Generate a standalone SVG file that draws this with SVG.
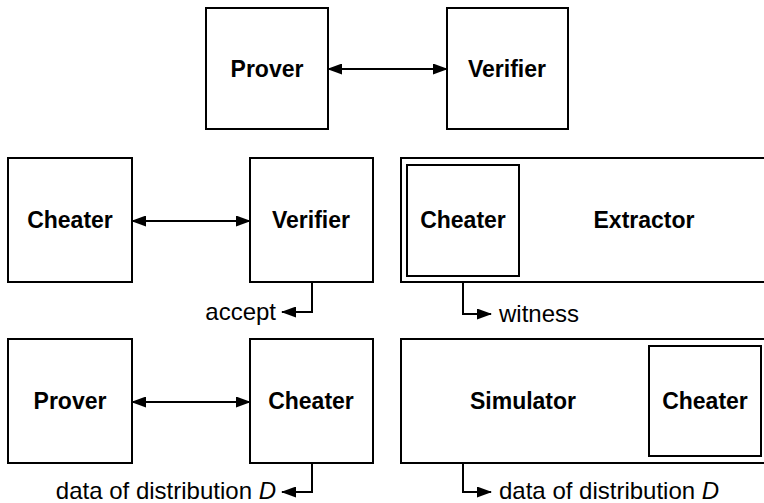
<svg xmlns="http://www.w3.org/2000/svg" width="764" height="503" viewBox="0 0 764 503">
<style>
.box{fill:#fff;stroke:#000;stroke-width:2}
.lbl{font-family:"Liberation Sans",Arial,sans-serif;font-weight:bold;font-size:23px;text-anchor:middle;dominant-baseline:central}
.txt{font-family:"Liberation Sans",Arial,sans-serif;font-size:24px}
.con{fill:none;stroke:#000;stroke-width:2}
</style>
<defs>
<marker id="ah" viewBox="0 0 15 11" refX="14" refY="5.5" markerWidth="15" markerHeight="11" markerUnits="userSpaceOnUse" orient="auto-start-reverse">
<path d="M0,0 L15,5.5 L0,11 Z" fill="#000"/>
</marker>
</defs>
<rect width="764" height="503" fill="#fff"/>
<g id="prover1"><rect class="box" x="206" y="8" width="122" height="121"/><text class="lbl" x="267" y="69">Prover</text></g>
<g id="verifier1"><rect class="box" x="447" y="8" width="121" height="121"/><text class="lbl" x="507" y="69">Verifier</text></g>
<g id="cheater2"><rect class="box" x="8" y="158" width="124" height="124"/><text class="lbl" x="70" y="220">Cheater</text></g>
<g id="verifier2"><rect class="box" x="250" y="158" width="123" height="124"/><text class="lbl" x="311" y="220">Verifier</text></g>
<g id="extractor"><rect class="box" x="401" y="158" width="380" height="124"/><rect class="box" x="407" y="165" width="112" height="111"/><text class="lbl" x="463" y="220">Cheater</text><text class="lbl" x="644" y="220">Extractor</text></g>
<g id="prover3"><rect class="box" x="8" y="339" width="124" height="124"/><text class="lbl" x="70" y="401">Prover</text></g>
<g id="cheater3"><rect class="box" x="250" y="339" width="123" height="124"/><text class="lbl" x="311" y="401">Cheater</text></g>
<g id="simulator"><rect class="box" x="401" y="339" width="380" height="124"/><rect class="box" x="649" y="346" width="112" height="110"/><text class="lbl" x="523" y="401">Simulator</text><text class="lbl" x="705" y="401">Cheater</text></g>
<g id="connectors">
<line class="con" x1="328" y1="69" x2="447" y2="69" marker-start="url(#ah)" marker-end="url(#ah)"/>
<line class="con" x1="132" y1="221" x2="250" y2="221" marker-start="url(#ah)" marker-end="url(#ah)"/>
<line class="con" x1="132" y1="402" x2="250" y2="402" marker-start="url(#ah)" marker-end="url(#ah)"/>
<path class="con" d="M312,282 V312 H282" marker-end="url(#ah)"/>
<path class="con" d="M463,282 V314 H491" marker-end="url(#ah)"/>
<path class="con" d="M312,463 V492 H282" marker-end="url(#ah)"/>
<path class="con" d="M463,463 V492 H491" marker-end="url(#ah)"/>
</g>
<text class="txt" x="276" y="320" text-anchor="end">accept</text>
<text class="txt" x="499" y="322">witness</text>
<text class="txt" x="276" y="499" text-anchor="end">data of distribution <tspan font-style="italic">D</tspan></text>
<text class="txt" x="499" y="499">data of distribution <tspan font-style="italic">D</tspan></text>
</svg>
